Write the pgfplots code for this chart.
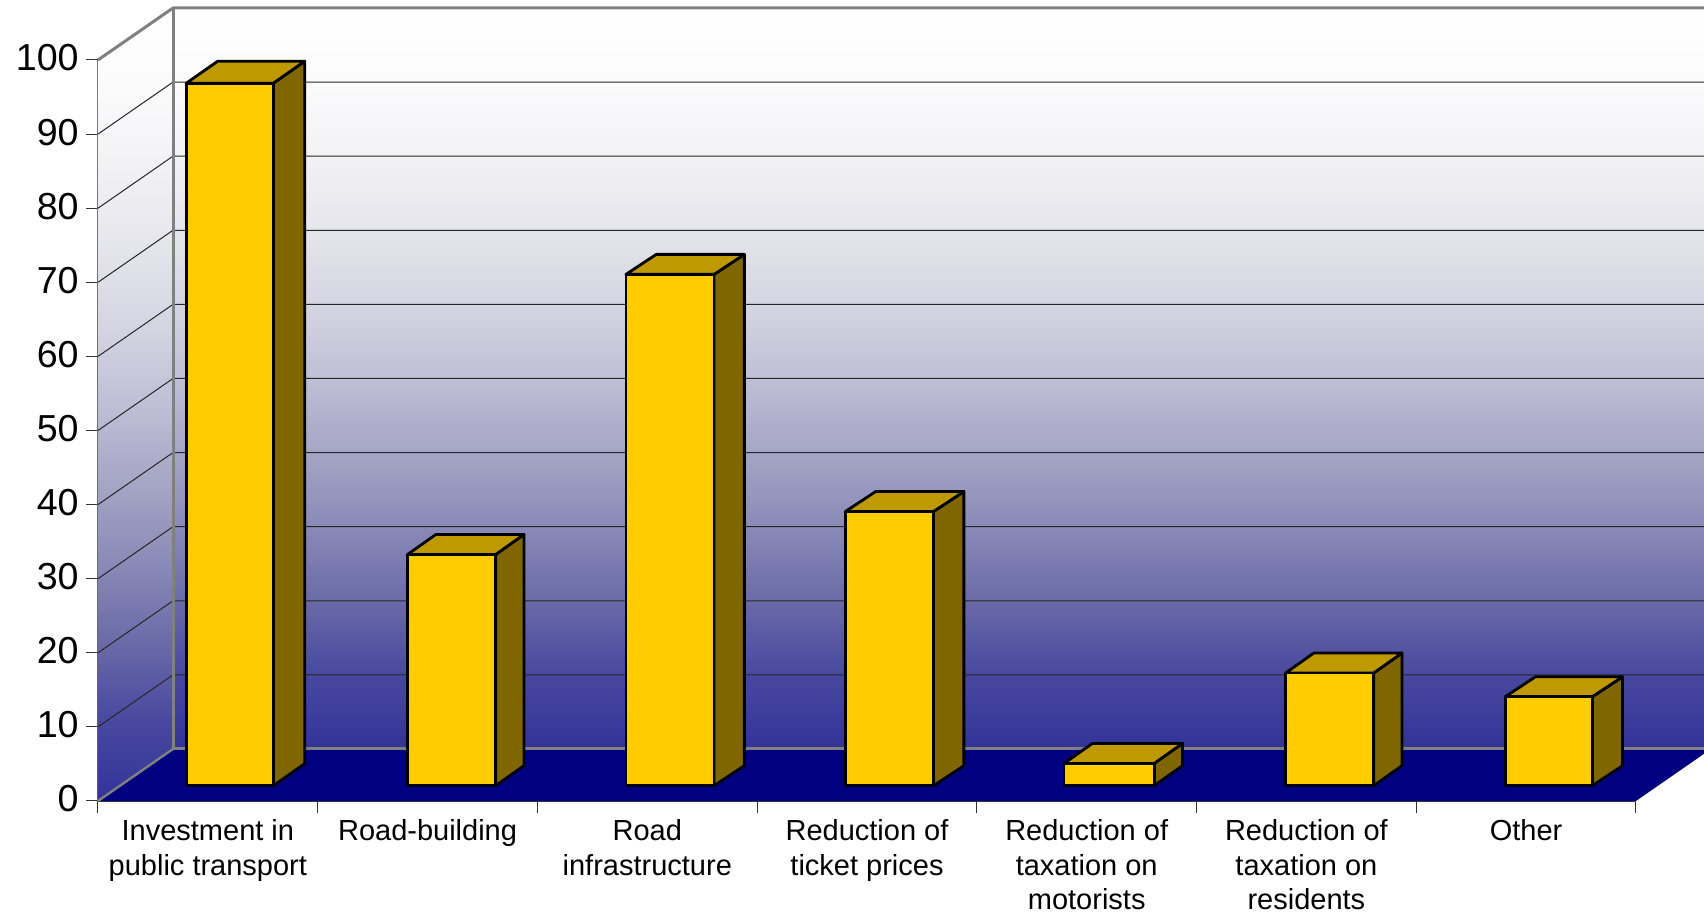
\documentclass[border=0pt]{standalone}
\usepackage{fontspec}
\setmainfont{Liberation Sans}
\usepackage{pgfplots}
\pgfplotsset{compat=1.18}

\definecolor{floorblue}{HTML}{000080}
\definecolor{barfront}{HTML}{FFCC00}
\definecolor{bartop}{HTML}{BF9900}
\definecolor{barside}{HTML}{806600}
\definecolor{frame}{HTML}{808080}

% Wall gradient: deep blue at the floor, fading to white at the top
\pgfdeclareverticalshading{wallshade}{100bp}{
  rgb(0bp)=(0.200,0.200,0.600);
  rgb(25bp)=(0.200,0.200,0.600);
  rgb(30bp)=(0.282,0.282,0.627);
  rgb(35bp)=(0.416,0.416,0.659);
  rgb(40bp)=(0.541,0.541,0.722);
  rgb(45bp)=(0.647,0.647,0.773);
  rgb(50bp)=(0.749,0.749,0.839);
  rgb(55bp)=(0.835,0.835,0.886);
  rgb(60bp)=(0.898,0.898,0.925);
  rgb(65bp)=(0.949,0.949,0.961);
  rgb(70bp)=(0.984,0.984,0.988);
  rgb(75bp)=(1,1,1);
  rgb(100bp)=(1,1,1)}

% Depth of the chart box and height of the bars' foot above the front edge (data units)
\newcommand{\boxdx}{0.3414}
\newcommand{\boxdy}{7.02}
\newcommand{\barfoot}{2.07}

% One block: left edge, right edge, value, depth in x, depth in y
\newcommand{\blockbar}[5]{%
  \pgfmathsetmacro{\ya}{\barfoot}%
  \pgfmathsetmacro{\yb}{\barfoot+#3}%
  \pgfmathsetmacro{\yc}{\barfoot+#5}%
  \pgfmathsetmacro{\yd}{\barfoot+#3+#5}%
  \pgfmathsetmacro{\xb}{#2+#4}%
  \pgfmathsetmacro{\xa}{#1+#4}%
  \edef\blockdraw{%
    \noexpand\addplot[draw=black,line width=1.4pt,line join=round,fill=barside]
      coordinates {(#2,\ya) (\xb,\yc) (\xb,\yd) (#2,\yb)} --cycle;
    \noexpand\addplot[draw=black,line width=1.4pt,line join=round,fill=bartop]
      coordinates {(#1,\yb) (#2,\yb) (\xb,\yd) (\xa,\yd)} --cycle;
    \noexpand\addplot[draw=black,line width=1.4pt,line join=round,fill=barfront]
      coordinates {(#1,\ya) (#2,\ya) (#2,\yb) (#1,\yb)} --cycle;
  }%
  \blockdraw
}

% One gridline running along the side wall and then the back wall
\newcommand{\gridrule}[1]{%
  \pgfmathsetmacro{\yg}{#1+\boxdy}%
  \edef\griddraw{%
    \noexpand\addplot[draw=black!85,line width=0.5pt]
      coordinates {(0,#1) (\boxdx,\yg) (7.4,\yg)};
  }%
  \griddraw
}

\begin{document}
\begin{tikzpicture}
\clip (0,0) rectangle (852pt,457.5pt);
\begin{axis}[
  at={(49pt,57pt)}, anchor=south west,
  scale only axis, width=769pt, height=370.5pt,
  xmin=0, xmax=7, ymin=0, ymax=100,
  clip=false, no markers,
  axis x line=bottom, axis y line=left,
  axis line style={-, draw=black!60, line width=0.9pt},
  x axis line style={draw=black!80, line width=0.6pt},
  tick align=outside, major tick length=6pt,
  tick style={draw=black!80, line width=0.5pt},
  xtick={0,1,2,3,4,5,6,7},
  ytick={0,10,20,30,40,50,60,70,80,90,100},
  x tick label as interval,
  xticklabels={
    {Investment in\\public transport},
    {Road-building},
    {Road\\infrastructure},
    {Reduction of\\ticket prices},
    {Reduction of\\taxation on\\motorists},
    {Reduction of\\taxation on\\residents},
    {Other}},
  xticklabel style={align=center, inner sep=0pt, yshift=-3.2pt,
    font=\fontsize{14.5}{17.2}\selectfont},
  yticklabel style={inner sep=0pt, xshift=-3.5pt, yshift=1pt,
    font=\fontsize{18.8}{21}\selectfont},
  /pgf/number format/assume math mode=true,
]
% side wall, back wall and floor
\addplot[draw=none, shading=wallshade]
  coordinates {(0,0) (0.3414,7.02) (0.3414,107.02) (0,100)} --cycle;
\addplot[draw=none, shading=wallshade]
  coordinates {(0.3414,7.02) (7.4,7.02) (7.4,107.02) (0.3414,107.02)} --cycle;
\addplot[draw=none, fill=floorblue]
  coordinates {(0,0) (7,0) (7.3414,7.02) (7.4,7.02) (0.3414,7.02)} --cycle;

\gridrule{10}\gridrule{20}\gridrule{30}\gridrule{40}\gridrule{50}
\gridrule{60}\gridrule{70}\gridrule{80}\gridrule{90}

% frame edges of the box
\addplot[draw=frame, line width=1.5pt] coordinates {(0,100) (0.3414,107.02) (7.4,107.02)};
\addplot[draw=frame, line width=1.5pt] coordinates {(0.3414,107.02) (0.3414,7.02) (7.4,7.02)};
\addplot[draw=frame, line width=1.2pt] coordinates {(0,0) (0.3414,7.02)};

% the seven blocks
\blockbar{0.402}{0.798}{94.8}{0.143}{2.97}
\blockbar{1.409}{1.810}{31.2}{0.129}{2.70}
\blockbar{2.403}{2.804}{69}{0.138}{2.70}
\blockbar{3.402}{3.803}{37}{0.138}{2.70}
\blockbar{4.397}{4.807}{3}{0.129}{2.70}
\blockbar{5.405}{5.806}{15.2}{0.129}{2.70}
\blockbar{6.405}{6.801}{12}{0.138}{2.70}
\end{axis}
\end{tikzpicture}
\end{document}
